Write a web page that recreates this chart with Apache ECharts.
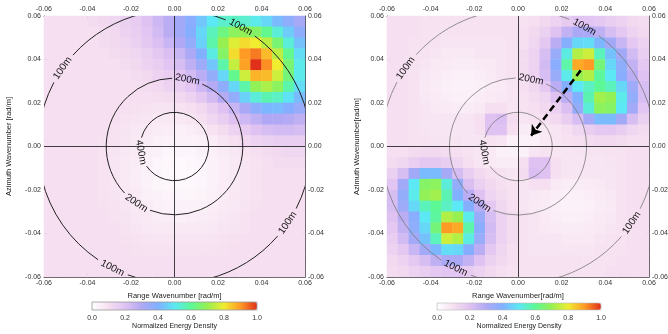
<!DOCTYPE html>
<html><head><meta charset="utf-8">
<script src="https://cdn.jsdelivr.net/npm/echarts@6/dist/echarts.min.js"></script>
<style>html,body{margin:0;padding:0;background:#fff}#c{width:668px;height:334px}</style>
</head><body><div id="c"></div>
<script>
// ---- data ----
const cellCenters = [-0.0575,-0.0525,-0.0475,-0.0425,-0.0375,-0.0325,-0.0275,-0.0225,-0.0175,-0.0125,-0.0075,-0.0025,
                     0.0025,0.0075,0.0125,0.0175,0.0225,0.0275,0.0325,0.0375,0.0425,0.0475,0.0525,0.0575];
const colorbarTicks = [0, 0.2, 0.4, 0.6, 0.8, 1.0];
const ringRadius = [0.0628, 0.0314, 0.0157];     // 100 m, 200 m, 400 m wavenumber circles
const ringNames = ['100m', '200m', '400m'];
const ringLabelAngles = [[61, 145, 243, 326], [79, 236], [190]];
const ringGap = [14, 26, 50];
const arrowFrom = [0.0287, 0.035];
const arrowTo = [0.006, 0.005];

// rows: top (azimuth +0.0575) to bottom (-0.0575); columns: range -0.0575 .. +0.0575
const leftRows = [
[0.10,0.10,0.10,0.10,0.11,0.12,0.13,0.15,0.17,0.20,0.24,0.28,0.33,0.38,0.44,0.50,0.54,0.55,0.54,0.51,0.47,0.42,0.37,0.32],
[0.10,0.10,0.10,0.10,0.10,0.11,0.12,0.14,0.16,0.19,0.23,0.28,0.33,0.39,0.47,0.56,0.63,0.68,0.69,0.67,0.61,0.53,0.45,0.37],
[0.10,0.10,0.10,0.10,0.10,0.11,0.12,0.13,0.15,0.18,0.21,0.25,0.30,0.36,0.46,0.58,0.70,0.78,0.82,0.80,0.74,0.65,0.53,0.43],
[0.10,0.10,0.10,0.10,0.10,0.10,0.11,0.12,0.13,0.15,0.18,0.21,0.25,0.31,0.40,0.52,0.67,0.82,0.90,0.93,0.86,0.74,0.61,0.48],
[0.10,0.10,0.10,0.10,0.10,0.10,0.10,0.11,0.12,0.14,0.16,0.19,0.22,0.27,0.34,0.44,0.58,0.75,0.89,1.00,0.91,0.80,0.65,0.51],
[0.10,0.10,0.10,0.10,0.10,0.10,0.10,0.10,0.11,0.12,0.14,0.16,0.19,0.23,0.28,0.36,0.47,0.61,0.76,0.87,0.86,0.76,0.64,0.51],
[0.10,0.10,0.10,0.10,0.10,0.10,0.10,0.10,0.10,0.11,0.12,0.14,0.16,0.19,0.24,0.29,0.37,0.47,0.58,0.69,0.72,0.68,0.58,0.48],
[0.10,0.10,0.10,0.10,0.10,0.10,0.10,0.10,0.10,0.10,0.105,0.11,0.12,0.14,0.18,0.23,0.29,0.36,0.46,0.53,0.57,0.55,0.49,0.42],
[0.10,0.10,0.10,0.10,0.10,0.10,0.10,0.10,0.095,0.09,0.085,0.085,0.09,0.10,0.12,0.16,0.20,0.25,0.31,0.37,0.41,0.42,0.39,0.35],
[0.10,0.10,0.10,0.10,0.10,0.10,0.10,0.09,0.085,0.08,0.07,0.07,0.07,0.08,0.10,0.13,0.16,0.20,0.24,0.27,0.30,0.30,0.29,0.27],
[0.10,0.10,0.10,0.10,0.10,0.10,0.09,0.085,0.075,0.07,0.06,0.055,0.05,0.055,0.07,0.09,0.11,0.14,0.17,0.20,0.22,0.23,0.23,0.22],
[0.10,0.10,0.10,0.10,0.10,0.095,0.09,0.08,0.07,0.06,0.05,0.04,0.04,0.04,0.05,0.06,0.08,0.10,0.12,0.14,0.15,0.16,0.16,0.16],
[0.10,0.10,0.10,0.10,0.10,0.09,0.085,0.075,0.065,0.05,0.04,0.03,0.03,0.03,0.04,0.05,0.06,0.075,0.09,0.10,0.11,0.12,0.13,0.13],
[0.10,0.10,0.10,0.10,0.10,0.09,0.08,0.07,0.06,0.04,0.03,0.025,0.02,0.025,0.03,0.04,0.055,0.07,0.08,0.09,0.10,0.11,0.11,0.11],
[0.10,0.10,0.10,0.10,0.10,0.09,0.08,0.07,0.055,0.04,0.03,0.023,0.02,0.022,0.03,0.04,0.055,0.07,0.08,0.09,0.10,0.10,0.10,0.10],
[0.10,0.10,0.10,0.10,0.10,0.09,0.08,0.07,0.06,0.045,0.032,0.026,0.023,0.025,0.03,0.04,0.055,0.07,0.08,0.09,0.10,0.10,0.10,0.10],
[0.10,0.10,0.10,0.10,0.10,0.09,0.085,0.075,0.065,0.05,0.04,0.033,0.03,0.032,0.038,0.047,0.06,0.072,0.08,0.09,0.10,0.10,0.10,0.10],
[0.10,0.10,0.10,0.10,0.10,0.095,0.09,0.08,0.07,0.06,0.05,0.04,0.04,0.04,0.045,0.055,0.065,0.075,0.085,0.095,0.10,0.10,0.10,0.10],
[0.10,0.10,0.10,0.10,0.10,0.10,0.09,0.085,0.075,0.07,0.06,0.055,0.05,0.055,0.06,0.065,0.075,0.08,0.09,0.10,0.10,0.10,0.10,0.10],
[0.10,0.10,0.10,0.10,0.10,0.10,0.10,0.09,0.08,0.075,0.07,0.07,0.07,0.07,0.07,0.075,0.08,0.085,0.09,0.10,0.10,0.10,0.10,0.10],
[0.10,0.10,0.10,0.10,0.10,0.10,0.10,0.095,0.09,0.085,0.08,0.08,0.08,0.08,0.08,0.085,0.09,0.095,0.10,0.10,0.10,0.10,0.10,0.10],
[0.10,0.10,0.10,0.10,0.10,0.10,0.10,0.10,0.095,0.09,0.09,0.09,0.09,0.09,0.09,0.09,0.095,0.10,0.10,0.10,0.10,0.10,0.10,0.10],
[0.10,0.10,0.10,0.10,0.10,0.10,0.10,0.10,0.10,0.10,0.10,0.10,0.10,0.10,0.10,0.10,0.10,0.10,0.10,0.10,0.10,0.10,0.10,0.10],
[0.10,0.10,0.10,0.10,0.10,0.10,0.10,0.10,0.10,0.10,0.10,0.10,0.10,0.10,0.10,0.10,0.10,0.10,0.10,0.10,0.10,0.10,0.10,0.10]
];
const rightRows = [
[0.10,0.10,0.10,0.09,0.09,0.09,0.09,0.09,0.09,0.09,0.09,0.09,0.09,0.10,0.12,0.14,0.17,0.19,0.19,0.18,0.16,0.14,0.12,0.11],
[0.10,0.10,0.10,0.09,0.09,0.09,0.09,0.09,0.09,0.09,0.09,0.09,0.10,0.12,0.145,0.20,0.26,0.31,0.31,0.27,0.22,0.18,0.14,0.12],
[0.10,0.10,0.09,0.09,0.09,0.08,0.08,0.08,0.08,0.08,0.08,0.09,0.10,0.13,0.18,0.28,0.39,0.47,0.48,0.41,0.33,0.25,0.18,0.14],
[0.10,0.10,0.09,0.09,0.08,0.07,0.07,0.07,0.08,0.08,0.08,0.09,0.11,0.14,0.22,0.35,0.52,0.73,0.76,0.56,0.43,0.33,0.23,0.16],
[0.10,0.10,0.09,0.08,0.07,0.065,0.06,0.06,0.065,0.07,0.08,0.09,0.11,0.14,0.23,0.38,0.58,0.88,0.90,0.64,0.47,0.37,0.26,0.18],
[0.10,0.10,0.09,0.075,0.065,0.055,0.05,0.05,0.055,0.065,0.08,0.09,0.11,0.14,0.22,0.35,0.51,0.70,0.73,0.59,0.50,0.38,0.28,0.20],
[0.10,0.10,0.09,0.07,0.06,0.05,0.045,0.045,0.05,0.06,0.07,0.08,0.10,0.125,0.18,0.28,0.39,0.50,0.55,0.60,0.56,0.47,0.34,0.22],
[0.10,0.10,0.09,0.075,0.065,0.055,0.05,0.05,0.055,0.065,0.075,0.08,0.09,0.115,0.135,0.20,0.28,0.40,0.57,0.71,0.69,0.51,0.36,0.22],
[0.10,0.10,0.09,0.08,0.07,0.065,0.06,0.06,0.07,0.10,0.10,0.08,0.09,0.10,0.12,0.15,0.21,0.36,0.53,0.68,0.67,0.50,0.33,0.19],
[0.10,0.10,0.09,0.08,0.08,0.08,0.08,0.08,0.10,0.20,0.21,0.11,0.08,0.09,0.10,0.12,0.16,0.22,0.32,0.42,0.42,0.33,0.22,0.15],
[0.10,0.10,0.09,0.085,0.08,0.08,0.08,0.08,0.10,0.20,0.20,0.10,0.06,0.06,0.07,0.08,0.10,0.13,0.16,0.18,0.18,0.16,0.13,0.11],
[0.10,0.10,0.09,0.09,0.085,0.085,0.085,0.08,0.08,0.09,0.08,0.04,0.04,0.05,0.07,0.08,0.09,0.10,0.11,0.12,0.12,0.11,0.10,0.10],
[0.10,0.10,0.11,0.12,0.12,0.11,0.10,0.09,0.08,0.07,0.05,0.04,0.04,0.08,0.09,0.08,0.08,0.085,0.085,0.085,0.09,0.09,0.10,0.10],
[0.11,0.13,0.16,0.18,0.18,0.16,0.13,0.10,0.08,0.07,0.06,0.06,0.10,0.20,0.20,0.10,0.08,0.08,0.08,0.08,0.085,0.09,0.10,0.10],
[0.15,0.22,0.33,0.42,0.42,0.32,0.22,0.16,0.12,0.10,0.09,0.08,0.11,0.21,0.20,0.10,0.08,0.08,0.08,0.08,0.08,0.09,0.10,0.10],
[0.19,0.33,0.50,0.67,0.68,0.53,0.36,0.21,0.15,0.12,0.10,0.09,0.08,0.10,0.10,0.07,0.06,0.06,0.065,0.07,0.08,0.09,0.10,0.10],
[0.22,0.36,0.51,0.69,0.71,0.57,0.40,0.28,0.20,0.135,0.115,0.09,0.08,0.075,0.065,0.055,0.05,0.05,0.055,0.065,0.075,0.09,0.10,0.10],
[0.22,0.34,0.47,0.56,0.60,0.55,0.50,0.39,0.28,0.18,0.125,0.10,0.08,0.07,0.06,0.05,0.045,0.045,0.05,0.06,0.07,0.09,0.10,0.10],
[0.20,0.28,0.38,0.50,0.59,0.73,0.70,0.51,0.35,0.22,0.14,0.11,0.09,0.08,0.065,0.055,0.05,0.05,0.055,0.065,0.075,0.09,0.10,0.10],
[0.18,0.26,0.37,0.47,0.64,0.90,0.88,0.58,0.38,0.23,0.14,0.11,0.09,0.08,0.07,0.065,0.06,0.06,0.065,0.07,0.08,0.09,0.10,0.10],
[0.16,0.23,0.33,0.43,0.56,0.76,0.73,0.52,0.35,0.22,0.14,0.11,0.09,0.08,0.08,0.08,0.07,0.07,0.07,0.08,0.09,0.09,0.10,0.10],
[0.14,0.18,0.25,0.33,0.41,0.48,0.47,0.39,0.28,0.18,0.13,0.10,0.09,0.08,0.08,0.08,0.08,0.08,0.08,0.09,0.09,0.09,0.10,0.10],
[0.12,0.14,0.18,0.22,0.27,0.31,0.31,0.26,0.20,0.145,0.12,0.10,0.09,0.09,0.09,0.09,0.09,0.09,0.09,0.09,0.09,0.10,0.10,0.10],
[0.11,0.12,0.14,0.16,0.18,0.19,0.19,0.17,0.14,0.12,0.10,0.09,0.09,0.09,0.09,0.09,0.09,0.09,0.09,0.09,0.10,0.10,0.10,0.10]
];
const colorMap = ['#ffffff','#f6dff0','#e0c2f2','#b0a8f4','#80b0ff','#5ce8f4','#5cf896','#98f050','#f0ec30','#ff9a24','#e0301a'];

// ---- chart ----
const FONT = 'Liberation Sans';
function toCells(rows) {
  const out = [];
  rows.forEach((row, r) => row.forEach((v, c) => out.push([c, rows.length - 1 - r, v])));
  return out;
}
const fmt = v => (v < -1e-9 ? '-' : '') + Math.abs(v).toFixed(2);
const cellLabels = cellCenters.map(String);

function catAxis(g) { return { type: 'category', gridIndex: g, data: cellLabels, show: false }; }
function valAxis(g, pos, name, gap) {
  return {
    type: 'value', gridIndex: g, position: pos, min: -0.06, max: 0.06, interval: 0.02,
    axisLine: { show: true, onZero: false, lineStyle: { color: '#444', width: 1 } },
    axisTick: { show: true, inside: true, length: 4, lineStyle: { color: '#444', width: 0.8 } },
    minorTick: { show: true, splitNumber: 4, length: 2, lineStyle: { color: '#666', width: 0.6 } },
    splitLine: { show: false }, minorSplitLine: { show: false },
    axisLabel: { fontSize: 7, color: '#333', margin: 3, formatter: fmt, fontFamily: FONT },
    name: name || '', nameLocation: 'middle',
    nameGap: gap || 12,
    nameTextStyle: { fontSize: 7.5, color: '#222', fontFamily: FONT }
  };
}
function cbAxis(g) {
  return {
    type: 'value', gridIndex: g, min: 0, max: 1, interval: 0.2,
    axisLine: { show: false }, axisTick: { show: false }, splitLine: { show: false },
    axisLabel: { fontSize: 7, color: '#333', margin: 5, fontFamily: FONT, formatter: v => v.toFixed(1) },
    name: 'Normalized Energy Density', nameLocation: 'middle', nameGap: 13,
    nameTextStyle: { fontSize: 7, color: '#222', fontFamily: FONT }
  };
}
function ringRenderer(color, width) {
  return function (params, api) {
    const r = api.value(0), idx = api.value(2);
    const c = api.coord([0, 0]);
    const rpx = api.size([r, r])[0];
    const angs = ringLabelAngles[idx].slice().sort((a, b) => a - b);
    const gap = ringGap[idx];
    const children = [];
    for (let k = 0; k < angs.length; k++) {
      const a1 = angs[k] + gap / 2;
      const a2 = (k + 1 < angs.length ? angs[k + 1] : angs[0] + 360) - gap / 2;
      children.push({
        type: 'arc',
        shape: { cx: c[0], cy: c[1], r: rpx, startAngle: -a2 * Math.PI / 180, endAngle: -a1 * Math.PI / 180, clockwise: true },
        style: { stroke: color, lineWidth: width, fill: null }
      });
    }
    angs.forEach(a => {
      const rad = a * Math.PI / 180;
      const p = api.coord([r * Math.cos(rad), r * Math.sin(rad)]);
      const rot = (Math.sin(rad) > 0 ? a - 90 : a + 90) * Math.PI / 180;
      children.push({
        type: 'text', x: p[0], y: p[1], rotation: rot,
        style: { text: ringNames[idx], fill: '#111', fontSize: 10, fontFamily: FONT, align: 'center', verticalAlign: 'middle' }
      });
    });
    return { type: 'group', children };
  };
}
const ringData = ringRadius.map((r, i) => [r, 0, i]);
const zeroLines = {
  silent: true, symbol: 'none', label: { show: false },
  lineStyle: { color: '#111', width: 0.8, type: 'solid' },
  data: [{ xAxis: 0 }, { yAxis: 0 }]
};

const option = {
  animation: false,
  backgroundColor: '#fff',
  grid: [
    { left: 44, top: 16, width: 261, height: 261, outerBoundsMode: 'none' },
    { left: 387, top: 16, width: 262, height: 261, outerBoundsMode: 'none' },
    { left: 92, top: 302, width: 165, height: 8, show: true, borderColor: '#999', borderWidth: 0.8, z: 10, outerBoundsMode: 'none' },
    { left: 437, top: 303, width: 164, height: 7, show: true, borderColor: '#bbb', borderWidth: 0.6, z: 10, outerBoundsMode: 'none' }
  ],
  xAxis: [
    catAxis(0), valAxis(0, 'bottom', 'Range Wavenumber [rad/m]', 12), valAxis(0, 'top'),
    catAxis(1), valAxis(1, 'bottom', 'Range Wavenumber[rad/m]', 12), valAxis(1, 'top'),
    cbAxis(2), cbAxis(3)
  ],
  yAxis: [
    catAxis(0), valAxis(0, 'left', 'Azimuth Wavenumber [rad/m]', 31), valAxis(0, 'right'),
    catAxis(1), valAxis(1, 'left', 'Azimuth Wavenumber[rad/m]', 26), valAxis(1, 'right'),
    { type: 'value', gridIndex: 2, show: false, min: 0, max: 1 },
    { type: 'value', gridIndex: 3, show: false, min: 0, max: 1 }
  ],
  visualMap: [
    { type: 'continuous', seriesIndex: 0, min: 0, max: 1, orient: 'horizontal', left: 92, top: 302,
      itemWidth: 8, itemHeight: 165, calculable: false, padding: 0, hoverLink: false, inRange: { color: colorMap } },
    { type: 'continuous', seriesIndex: 1, min: 0, max: 1, orient: 'horizontal', left: 437, top: 303,
      itemWidth: 7, itemHeight: 164, calculable: false, padding: 0, hoverLink: false, inRange: { color: colorMap } }
  ],
  series: [
    { type: 'heatmap', xAxisIndex: 0, yAxisIndex: 0, data: toCells(leftRows), silent: true, z: 1, progressive: 0 },
    { type: 'heatmap', xAxisIndex: 3, yAxisIndex: 3, data: toCells(rightRows), silent: true, z: 1, progressive: 0 },
    { type: 'custom', xAxisIndex: 1, yAxisIndex: 1, data: ringData, clip: true, silent: true, z: 3,
      renderItem: ringRenderer('#222', 1), markLine: zeroLines },
    { type: 'custom', xAxisIndex: 4, yAxisIndex: 4, data: ringData, clip: true, silent: true, z: 3,
      renderItem: ringRenderer('#777', 0.8), markLine: zeroLines },
    { type: 'lines', coordinateSystem: 'cartesian2d', xAxisIndex: 4, yAxisIndex: 4, silent: true, z: 5,
      data: [{ coords: [arrowFrom, arrowTo] }], symbol: ['none', 'arrow'], symbolSize: 10,
      lineStyle: { color: '#000', width: 2.5, type: [7, 4], opacity: 1 } }
  ],
  graphic: [
    { type: 'text', left: 404, top: 26, style: { text: 'A', fontSize: 15, fontWeight: 'bold', fontFamily: FONT, fill: '#000' } }
  ]
};
const chart = echarts.init(document.getElementById('c'), null, { renderer: 'canvas' });
chart.setOption(option);
</script>
</body></html>
